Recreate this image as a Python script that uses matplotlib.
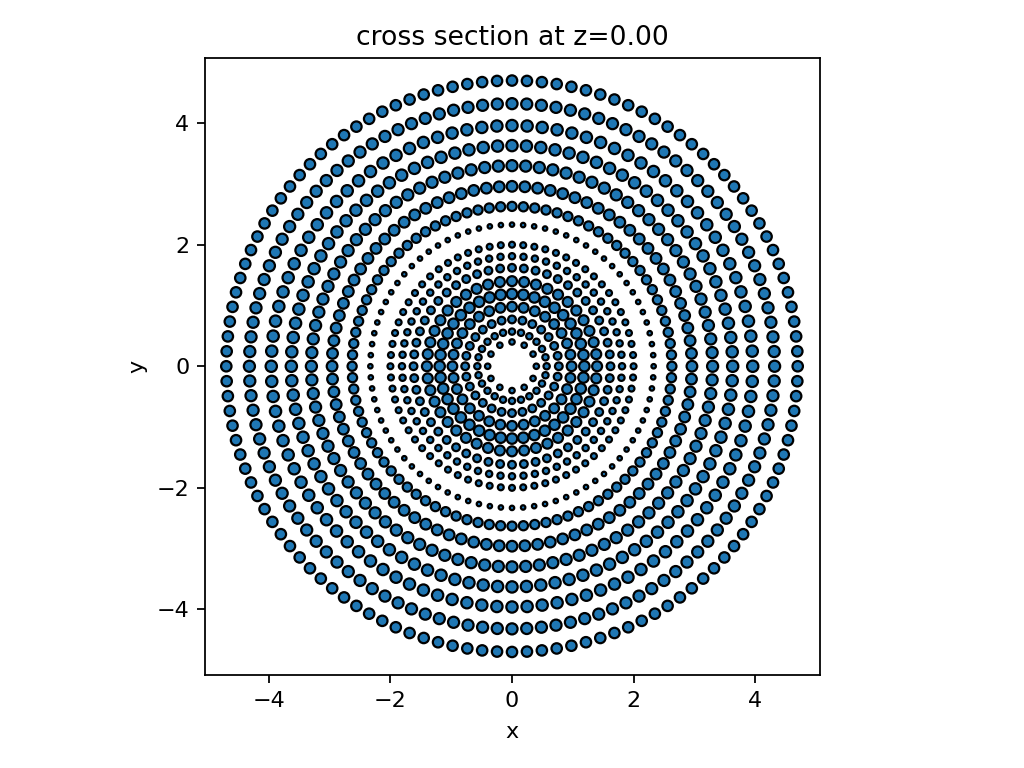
import numpy as np
import matplotlib
matplotlib.use("Agg")
import matplotlib.pyplot as plt

# ring radii, number of points per ring, marker size per ring
ring_radii = [0.40, 0.57, 0.77, 0.98, 1.19, 1.40, 1.62, 1.81, 2.00, 2.33,
              2.63, 2.96, 3.30, 3.63, 3.96, 4.32, 4.70]
ring_counts = [12, 24, 28, 32, 40, 44, 52, 60, 68, 80,
               88, 88, 92, 96, 100, 112, 120]
ring_sizes = [6, 8, 12, 19, 22, 20, 12, 8, 7, 4,
              17, 23, 25, 26, 26, 25, 22]

title_text = "cross section at z=0.00"

xs, ys, ss = [], [], []
for r, n, s in zip(ring_radii, ring_counts, ring_sizes):
    th = 2 * np.pi * np.arange(n) / n
    xs.append(r * np.cos(th))
    ys.append(r * np.sin(th))
    ss.append(np.full(n, s, dtype=float))
xs = np.concatenate(xs)
ys = np.concatenate(ys)
ss = np.concatenate(ss)

fig = plt.figure(figsize=(6.4, 4.8), dpi=160)
ax = fig.add_axes([0.2, 0.121, 0.6006, 0.8034])
ax.scatter(xs, ys, s=ss, c="C0", edgecolors="k", linewidths=1.0)
ax.set_xlim(-5.05, 5.06)
ax.set_ylim(-5.08, 5.07)
ax.set_aspect("equal")
ax.set_xticks([-4, -2, 0, 2, 4])
ax.set_yticks([-4, -2, 0, 2, 4])
ax.set_title(title_text)
ax.set_xlabel("x", labelpad=5)
ax.set_ylabel("y")
fig.savefig("out.png", dpi=160)
